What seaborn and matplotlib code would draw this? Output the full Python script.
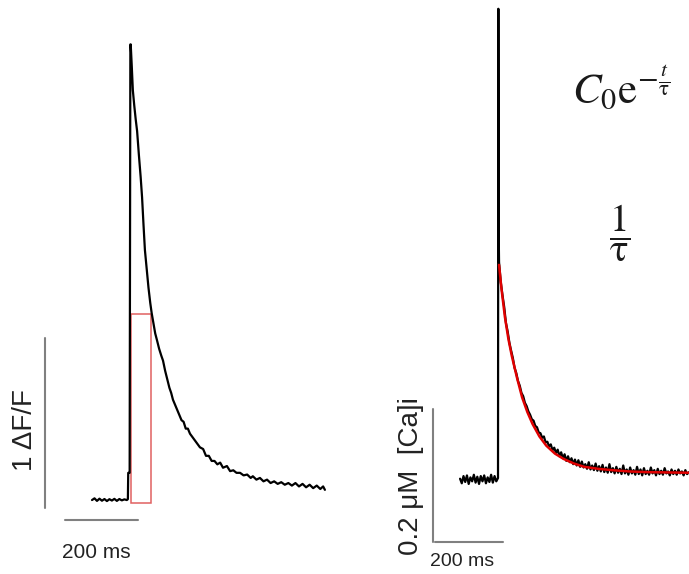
import matplotlib
matplotlib.use("Agg")
import pandas as pd
import seaborn as sns
import matplotlib.pyplot as plt
from matplotlib.patches import Rectangle

# ---- left trace: dF/F vs time (ms) ----
left_t = [-107, -100, -93, -86, -79, -72, -65, -58, -51, -44, -37, -30, -23, -16, -9, -6,
          -5, -1, 1,
          2, 5, 8, 12, 16, 20, 25, 30, 34, 38, 42, 47, 52, 57, 61, 66, 71, 76, 82, 88,
          93, 99, 105, 111, 116, 121, 127, 133, 139, 145, 151, 157, 163, 169, 176, 183,
          190, 197, 206, 214, 222, 230, 238, 246, 254, 262, 273, 282, 291, 300, 310, 320,
          330, 340, 346, 356, 366, 376, 386, 396, 406, 416, 426, 436, 446, 456, 466, 476,
          486, 496, 506, 516, 526, 536, 544, 549]
left_dff = [0.0, 0.01, -0.005, 0.008, -0.004, 0.006, -0.006, 0.005, -0.003, 0.007, -0.005, 0.006, -0.002, 0.004, 0.0, 0.005,
            0.16, 0.16, 2.68,
            2.68, 2.55, 2.41, 2.32, 2.24, 2.17, 2.03, 1.90, 1.78, 1.62, 1.47, 1.36, 1.25, 1.16, 1.10, 1.04, 0.98, 0.94, 0.89, 0.85,
            0.82, 0.76, 0.71, 0.66, 0.63, 0.59, 0.56, 0.53, 0.50, 0.47, 0.46, 0.42, 0.42, 0.39, 0.37, 0.35,
            0.33, 0.31, 0.30, 0.26, 0.26, 0.23, 0.23, 0.21, 0.22, 0.19, 0.20, 0.17, 0.175, 0.16, 0.16, 0.145,
            0.15, 0.13, 0.14, 0.12, 0.13, 0.11, 0.12, 0.10, 0.11, 0.095, 0.105, 0.09, 0.10, 0.085, 0.10, 0.08,
            0.095, 0.075, 0.09, 0.07, 0.085, 0.065, 0.08, 0.06]

# red box on the left trace (ms, dF/F)
box_t = [2.8, 59.0]
box_dff = [-0.018, 1.094]

# ---- right trace: [Ca]i (uM) vs time (ms) ----
right_t = [-110, -105, -100, -95, -90, -85, -80, -75, -70, -65, -60, -55, -50, -45, -40, -35,
           -30, -25, -20, -15, -10, -5, 0, 1, 2,
           3, 8, 13, 18, 23, 28, 33, 38, 43, 48, 53, 58, 63, 68, 73, 78, 83, 88, 93, 98,
           103, 108, 113, 118, 123, 128, 133, 138, 143, 148, 153, 158, 163, 168, 173, 178,
           183, 188, 193, 198, 203, 208, 213, 218, 223, 228, 233, 238, 243, 248, 253, 258,
           263, 268, 273, 278, 283, 288, 293, 298, 303, 308, 313, 318, 323, 328, 333, 338,
           343, 348, 353, 358, 363, 368, 373, 378, 383, 388, 393, 398, 403, 408, 413, 418,
           423, 428, 433, 438, 443, 448, 453, 458, 463, 468, 473, 478, 483, 488, 493, 498,
           503, 508, 513, 518, 523, 528, 533, 538, 543, 548, 554]
right_ca = [0.002, -0.005, 0.006, -0.003, 0.007, -0.006, 0.004, -0.002, 0.008, -0.004, 0.005, -0.006, 0.006, -0.002, 0.007, -0.005,
            0.004, -0.003, 0.008, -0.004, 0.006, -0.002, 0.003, 0.714, 0.375,
            0.33, 0.30, 0.28, 0.262, 0.238, 0.225, 0.208, 0.196, 0.185, 0.170, 0.162, 0.150, 0.143, 0.132, 0.127, 0.117, 0.112, 0.104, 0.099, 0.092,
            0.090, 0.082, 0.080, 0.072, 0.071, 0.064, 0.066, 0.057, 0.058, 0.051, 0.054, 0.045, 0.049, 0.041, 0.046, 0.036,
            0.042, 0.033, 0.039, 0.029, 0.036, 0.027, 0.033, 0.024, 0.031, 0.022, 0.030, 0.020, 0.028, 0.019, 0.024, 0.017,
            0.027, 0.016, 0.022, 0.015, 0.025, 0.014, 0.021, 0.013, 0.023, 0.012, 0.019, 0.011, 0.024, 0.012, 0.018, 0.010,
            0.020, 0.011, 0.017, 0.009, 0.022, 0.010, 0.016, 0.008, 0.019, 0.010, 0.015, 0.008, 0.020, 0.009, 0.016, 0.007,
            0.018, 0.009, 0.014, 0.008, 0.019, 0.010, 0.015, 0.007, 0.017, 0.009, 0.014, 0.008, 0.018, 0.010, 0.013, 0.007,
            0.016, 0.009, 0.014, 0.008, 0.016, 0.010, 0.013, 0.007, 0.015, 0.009, 0.012]

# exponential fit drawn in red
fit_t = [3, 10, 20, 30, 40, 55, 70, 85, 100, 120, 140, 165, 190, 220, 250, 290, 330, 380, 430, 490, 554]
fit_ca = [0.326, 0.290, 0.247, 0.214, 0.188, 0.155, 0.125, 0.103, 0.085, 0.066, 0.052, 0.040, 0.032,
          0.025, 0.020, 0.017, 0.015, 0.013, 0.012, 0.0115, 0.011]

# scale bars
left_bar_ms = [-183, 22.5]
left_bar_dff = [-0.047, 0.953]
right_bar_ms = [-183, 14.5]
right_bar_ca = [-0.094, 0.1076]

sns.set_theme(style="white")
plt.rcParams["font.family"] = ["Liberation Sans", "DejaVu Sans"]
plt.rcParams["mathtext.fontset"] = "stix"

fig = plt.figure(figsize=(6.89, 5.74), dpi=100)
ax1 = fig.add_axes([0, 0, 345 / 689, 1])
ax2 = fig.add_axes([345 / 689, 0, 344 / 689, 1])

left_df = pd.DataFrame({"t": left_t, "v": left_dff})
right_df = pd.DataFrame({"t": right_t, "v": right_ca})
fit_df = pd.DataFrame({"t": fit_t, "v": fit_ca})

# left panel
sns.lineplot(data=left_df, x="t", y="v", ax=ax1, sort=False, estimator=None,
             color="black", linewidth=1.6)
ax1.add_patch(Rectangle((box_t[0], box_dff[0]), box_t[1] - box_t[0], box_dff[1] - box_dff[0],
                        fill=False, edgecolor="#e06060", linewidth=1.1))
bar_color = "#808080"
ax1.plot(left_bar_ms, [-0.118, -0.118], color=bar_color, lw=1.5)
ax1.plot([-239.4, -239.4], left_bar_dff, color=bar_color, lw=1.5)
ax1.text(-96, -0.306, "200 ms", fontsize=15, ha="center", va="center", color="#222222")
ax1.text(-296, 0.41, "1 ΔF/F", fontsize=20, ha="center", va="center", rotation=90, color="#222222")
ax1.set_xlim(-366.2, 605.6)
ax1.set_ylim(-0.435, 2.941)
ax1.axis("off")

# right panel
sns.lineplot(data=right_df, x="t", y="v", ax=ax2, sort=False, estimator=None,
             color="black", linewidth=1.6)
sns.lineplot(data=fit_df, x="t", y="v", ax=ax2, sort=False, estimator=None,
             color="#e00000", linewidth=1.8)
ax2.plot(right_bar_ms, [-0.094, -0.094], color=bar_color, lw=1.5)
ax2.plot([-188, -188], right_bar_ca, color=bar_color, lw=1.5)
ax2.text(-104, -0.124, "200 ms", fontsize=14, ha="center", va="center", color="#222222")
ax2.text(-252, 0.006, "0.2 μM  [Ca]i", fontsize=20, ha="center", va="center", rotation=90, color="#222222")
ax2.set_xlim(-443.5, 553.6)
ax2.set_ylim(-0.1424, 0.7273)
ax2.axis("off")

# formulas
fig.text(572 / 689, 1 - 103 / 574, r"$C_0\mathrm{e}^{-\frac{t}{\mathrm{\tau}}}$", fontsize=31,
         ha="left", va="baseline", color="#1a1a1a")
fig.text(620 / 689, 1 - 233 / 574, r"$\dfrac{1}{\mathrm{\tau}}$", fontsize=28,
         ha="center", va="center", color="#1a1a1a")

fig.savefig("out.png", dpi=100, facecolor="white")
